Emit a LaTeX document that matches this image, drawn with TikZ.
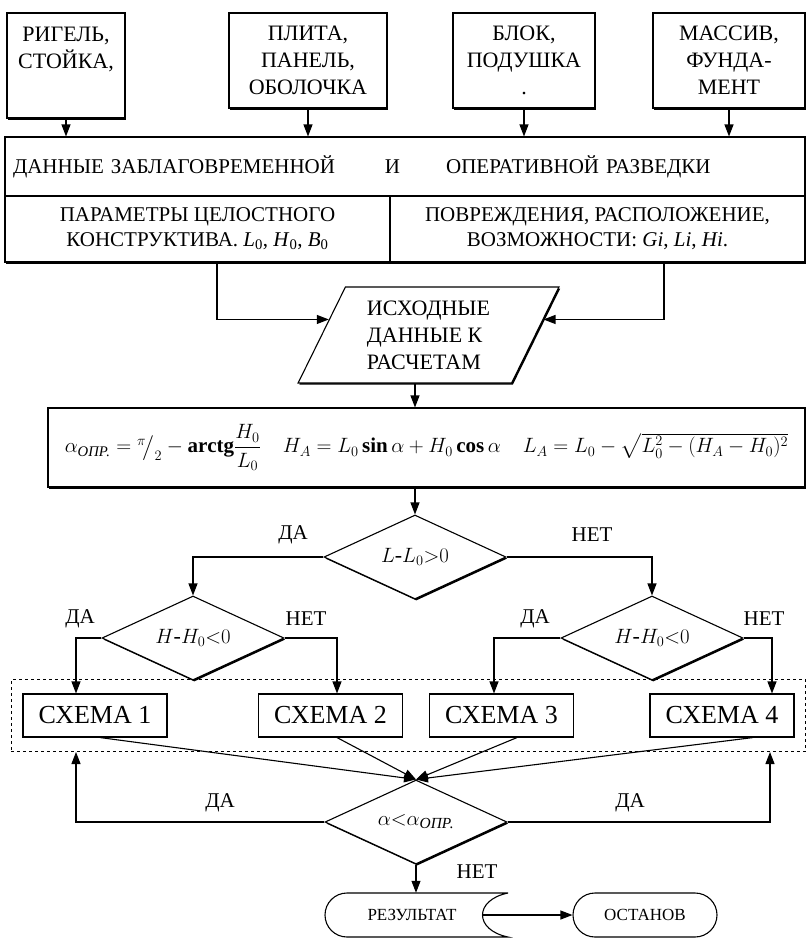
\documentclass[tikz,border=0pt]{standalone}
\usepackage{amsmath}
\usepackage{fontspec}
\setmainfont{Liberation Serif}
\usepackage{tikz}
\usetikzlibrary{positioning}
\usetikzlibrary{fit}
\usetikzlibrary{calc}
\usetikzlibrary{arrows.meta}
\usetikzlibrary{shapes.geometric}
\usetikzlibrary{shapes.misc}
\usetikzlibrary{shadows}

\tikzset{
  heavy/.style={fill=white, drop shadow={shadow xshift=1.3pt, shadow yshift=-1.6pt, fill=black, opacity=1}},
  unit/.style={draw, heavy, line width=1.1pt, align=center, inner sep=0pt, font=\fontsize{22}{27}\selectfont},
  cell/.style={draw, heavy, line width=1.1pt, align=center, inner sep=0pt, font=\fontsize{21}{25}\selectfont},
  decision/.style={draw, heavy, diamond, aspect=2.2, line width=1.1pt, minimum width=182pt, minimum height=84pt, inner sep=0pt, font=\fontsize{22}{26}\selectfont},
  schema/.style={draw, line width=1.1pt, minimum width=144pt, minimum height=43pt, inner sep=0pt, font=\fontsize{26}{30}\selectfont},
  answer/.style={font=\fontsize{21}{24}\selectfont},
  link/.style={line width=1.1pt},
  arr/.style={line width=1.1pt, -{Triangle[length=12pt,width=9pt]}}
}

\begin{document}
\begin{tikzpicture}[x=1pt,y=-1pt]
  \useasboundingbox (0,0) rectangle (807,938);

  % Draw the four kinds of elements
  \node[unit, minimum width=118, minimum height=105] (b1) at (66,65.5) {РИГЕЛЬ,\\СТОЙКА,\\\strut};
  \node[unit, minimum width=158, minimum height=95] (b2) at (308,60.5) {ПЛИТА,\\ПАНЕЛЬ,\\ОБОЛОЧКА};
  \node[unit, minimum width=142, minimum height=95] (b3) at (524,60.5) {БЛОК,\\ПОДУШКА\\.};
  \node[unit, minimum width=152, minimum height=95] (b4) at (729,60.5) {МАССИВ,\\ФУНДА-\\МЕНТ};

  % Draw the data table
  \node[cell, minimum width=800, minimum height=59, text width=784, align=left] (data) at (405,166.5)
    {ДАННЫЕ ЗАБЛАГОВРЕМЕННОЙ\hspace{50pt}И\hspace{46pt}ОПЕРАТИВНОЙ РАЗВЕДКИ};
  \node[cell, minimum width=385, minimum height=66] (cellL) at (197.5,229)
    {ПАРАМЕТРЫ ЦЕЛОСТНОГО\\КОНСТРУКТИВА. \textit{L}\textsubscript{0}, \textit{H}\textsubscript{0}, \textit{B}\textsubscript{0}};
  \node[cell, minimum width=415, minimum height=66] (cellR) at (597.5,229)
    {ПОВРЕЖДЕНИЯ, РАСПОЛОЖЕНИЕ,\\ВОЗМОЖНОСТИ: \textit{Gi}, \textit{Li}, \textit{Hi}.};

  % Elements go into the table
  \draw[arr] (b1.south) -- (b1.south |- data.north);
  \draw[arr] (b2.south) -- (b2.south |- data.north);
  \draw[arr] (b3.south) -- (b3.south |- data.north);
  \draw[arr] (b4.south) -- (b4.south |- data.north);

  % Draw input data
  \node[draw, heavy, trapezium, trapezium left angle=63, trapezium right angle=117, trapezium stretches=true,
        line width=1.1pt, minimum width=261, minimum height=96, inner sep=0pt, align=left,
        font=\fontsize{22}{27}\selectfont] (para) at (428.5,335) {ИСХОДНЫЕ\\ДАННЫЕ К\\РАСЧЕТАМ};
  \coordinate (pinL) at ($(para.bottom left corner)!0.66!(para.top left corner)$);
  \coordinate (pinR) at ($(para.bottom right corner)!0.66!(para.top right corner)$);
  \draw[arr] ([xshift=19.5pt]cellL.south) |- (pinL);
  \draw[arr] ([xshift=66.5pt]cellR.south) |- (pinR);

  % Draw formulas
  \node[cell, minimum width=757, minimum height=79] (calc) at (426.5,447.5)
    {$\alpha_{\text{\itshape ОПР.}} = {}^{\pi}\!\big/_{2} - \mathbf{arctg}\dfrac{H_0}{L_0}$\hspace{22pt}%
     $H_A = L_0\,\mathbf{sin}\,\alpha + H_0\,\mathbf{cos}\,\alpha$\hspace{22pt}%
     $L_A = L_0 - \sqrt{L_0^2 - (H_A - H_0)^2}$};

  % Draw decisions
  \node[decision] (d1) at (415,557) {$L\text{-}L_0{>}0$};
  \node[decision] (d2l) at (193,638) {$H\text{-}H_0{<}0$};
  \node[decision] (d2r) at (652,638) {$H\text{-}H_0{<}0$};
  \draw[arr] (d1 |- para.south) -- (d1 |- calc.north);
  \draw[arr] (d1 |- calc.south) -- (d1.north);
  \draw[arr] (d1.west) -| (d2l.north);
  \draw[arr] (d1.east) -| (d2r.north);
  \node[answer] at (293,535) {ДА};
  \node[answer] at (592,535) {НЕТ};

  % Draw the four schemes
  \node[schema] (s1) at (95,715.5) {СХЕМА 1};
  \node[schema] (s2) at (330.5,715.5) {СХЕМА 2};
  \node[schema] (s3) at (501.5,715.5) {СХЕМА 3};
  \node[schema] (s4) at (722,715.5) {СХЕМА 4};
  \node[draw, dashed, line width=0.9pt, fit=(s1)(s4), inner xsep=11pt, inner ysep=14pt] (frame) {};
  \draw[arr] (d2l.west) -| ([xshift=-19pt]s1.north);
  \draw[arr] (d2l.east) -| ([xshift=6.5pt]s2.north);
  \draw[arr] (d2r.west) -| ([xshift=-7.5pt]s3.north);
  \draw[arr] (d2r.east) -| ([xshift=50pt]s4.north);
  \node[answer] at (80,619) {ДА};
  \node[answer] at (306,619) {НЕТ};
  \node[answer] at (535,619) {ДА};
  \node[answer] at (764,619) {НЕТ};

  % Check the angle
  \node[decision] (d3) at (416,822) {$\alpha{<}\alpha_{\text{\itshape ОПР.}}$};
  \draw[arr] ([xshift=5pt]s1.south) -- (d3.north);
  \draw[arr] ([xshift=6.5pt]s2.south) -- (d3.north);
  \draw[arr] ([xshift=15.5pt]s3.south) -- (d3.north);
  \draw[arr] ([xshift=31pt]s4.south) -- (d3.north);
  \draw[arr] (d3.west) -| ([xshift=-19pt]frame.south -| s1);
  \draw[arr] (d3.east) -| ([xshift=48pt]frame.south -| s4);
  \node[answer] at (220,803) {ДА};
  \node[answer] at (630,803) {ДА};
  \node[answer] at (477,872) {НЕТ};

  % Result and stop
  \draw[link] (508,893) -- (347,893) arc[start angle=270, end angle=90, radius=22]
    -- (508,937) .. controls (474,930) and (474,900) .. (508,893);
  \node[minimum width=140, minimum height=44, inner sep=0pt, font=\fontsize{17}{20}\selectfont] (result) at (412,915) {РЕЗУЛЬТАТ};
  \node[draw, rounded rectangle, line width=1.1pt, minimum width=144, minimum height=44, inner sep=0pt,
        font=\fontsize{17}{20}\selectfont] (stop) at (645,915) {ОСТАНОВ};
  \draw[arr] (d3.south) -- (d3.south |- result.north);
  \draw[arr] (result.east) -- (stop.west);

\end{tikzpicture}
\end{document}
